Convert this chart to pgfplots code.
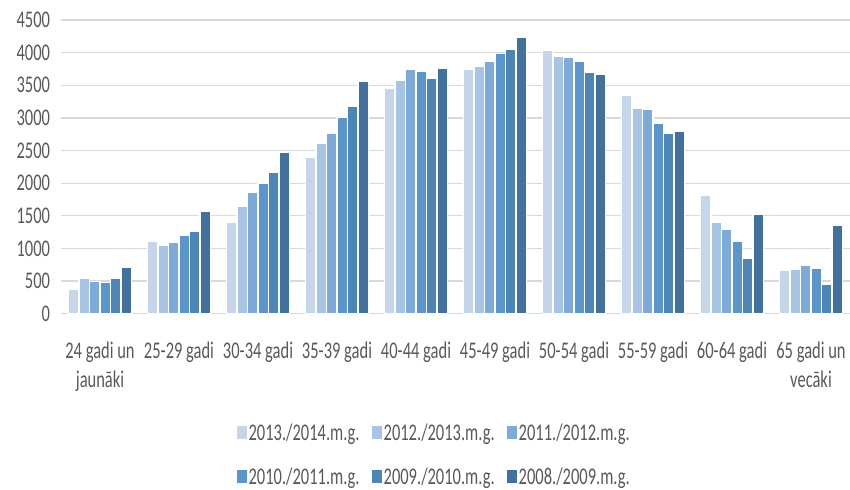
\documentclass[border=0pt]{standalone}
\usepackage{pgfplots}
\pgfplotsset{compat=1.18}
\usepackage{pgfplotstable}
\usepackage{fontspec}
\setmainfont{Carlito}[FakeStretch=0.69]
\definecolor{cA}{RGB}{197,213,234}
\definecolor{cB}{RGB}{168,196,228}
\definecolor{cC}{RGB}{125,170,217}
\definecolor{cD}{RGB}{90,150,203}
\definecolor{cE}{RGB}{78,133,183}
\definecolor{cF}{RGB}{66,113,158}
\definecolor{txt}{RGB}{89,89,89}
\definecolor{grd}{RGB}{217,217,217}
\pgfplotstableread{
x a b c d e f
0 373 536 495 480 536 705
1 1113 1052 1093 1195 1261 1568
2 1404 1650 1859 2002 2165 2472
3 2390 2615 2763 3008 3172 3560
4 3458 3580 3744 3708 3606 3764
5 3744 3785 3866 3989 4050 4234
6 4030 3948 3928 3866 3703 3662
7 3350 3146 3126 2916 2758 2794
8 1808 1399 1292 1108 843 1522
9 659 679 741 700 455 1353
}\data
\begin{document}
\begin{tikzpicture}
\begin{axis}[
  scale only axis, width=790bp, height=293.7bp,
  at={(60.5bp,176.3bp)}, anchor=south west,
  ybar=0pt, bar width=0.133,
  xmin=-0.5, xmax=9.5, ymin=0, ymax=4500,
  ytick={0,500,...,4500},
  xtick={0,...,9},
  xticklabels={{24 gadi un\\jaunāki},{25-29 gadi},{30-34 gadi},{35-39 gadi},{40-44 gadi},{45-49 gadi},{50-54 gadi},{55-59 gadi},{60-64 gadi},{65 gadi un\\vecāki}},
  axis line style={draw=none},
  major tick length=0pt,
  ymajorgrids, grid style={color=grd, line width=1.3bp},
  /pgf/number format/assume math mode=true,
  /pgf/number format/1000 sep={},
  tick label style={font=\fontsize{24}{29}\selectfont, text=txt},
  yticklabel style={anchor=east, xshift=-7bp},
  xticklabel style={align=center, anchor=north, yshift=-25bp},
  legend columns=3,
  legend style={at={(0.473,-0.36)}, anchor=north, draw=none, fill=none,
    font=\fontsize{24}{29}\selectfont, text=txt, row sep=22bp,
    /tikz/every even column/.append style={column sep=10bp}},
  legend image code/.code={\path[#1,draw=none] (0bp,-6.5bp) rectangle (10bp,6.5bp);},
]
\addplot[fill=cA, draw=white, line width=1.4bp] table[x=x,y=a]{\data};
\addplot[fill=cB, draw=white, line width=1.4bp] table[x=x,y=b]{\data};
\addplot[fill=cC, draw=white, line width=1.4bp] table[x=x,y=c]{\data};
\addplot[fill=cD, draw=white, line width=1.4bp] table[x=x,y=d]{\data};
\addplot[fill=cE, draw=white, line width=1.4bp] table[x=x,y=e]{\data};
\addplot[fill=cF, draw=white, line width=1.4bp] table[x=x,y=f]{\data};
\legend{2013./2014.m.g., 2012./2013.m.g., 2011./2012.m.g., 2010./2011.m.g., 2009./2010.m.g., 2008./2009.m.g.}
\end{axis}
\pgfresetboundingbox
\path[use as bounding box] (0,0) rectangle (850bp,490bp);
\end{tikzpicture}
\end{document}
